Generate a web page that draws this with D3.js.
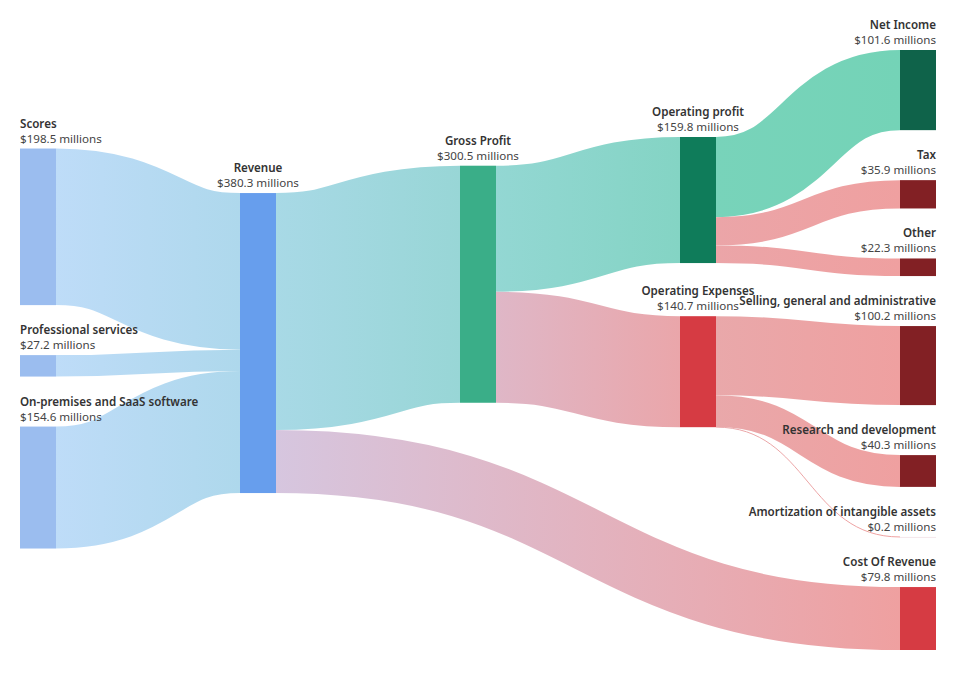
<!DOCTYPE html>
<html>
<head>
<meta charset="utf-8">
<script src="https://cdn.jsdelivr.net/npm/d3@7"></script>
<style>
  body { margin: 0; background: #fff; }
  text { font-family: "Noto Sans", "Open Sans", sans-serif; font-size: 11.6px; }
</style>
</head>
<body>
<svg id="sankey"></svg>
<script>
// nodes (order matters: the columns keep this order)
const nodeNames = ["Scores", "Professional services", "On-premises and SaaS software", "Revenue",
  "Gross Profit", "Operating profit", "Operating Expenses", "Net Income", "Tax", "Other",
  "Selling, general and administrative", "Research and development",
  "Amortization of intangible assets", "Cost Of Revenue"];
const nodeColors = ["#9bbdef", "#9bbdef", "#9bbdef", "#679eed",
  "#3aae88", "#0f7c5a", "#d63b43", "#0f634a", "#822024", "#822024",
  "#822024", "#822024", "#f3e6ea", "#d63b43"];

// flows in $ millions
const linkSources = ["Scores", "Professional services", "On-premises and SaaS software",
  "Revenue", "Revenue", "Gross Profit", "Gross Profit",
  "Operating profit", "Operating profit", "Operating profit",
  "Operating Expenses", "Operating Expenses", "Operating Expenses"];
const linkTargets = ["Revenue", "Revenue", "Revenue",
  "Gross Profit", "Cost Of Revenue", "Operating profit", "Operating Expenses",
  "Net Income", "Tax", "Other",
  "Selling, general and administrative", "Research and development", "Amortization of intangible assets"];
const linkValues = [198.5, 27.2, 154.6, 300.5, 79.8, 159.8, 140.7, 101.6, 35.9, 22.3, 100.2, 40.3, 0.2];
const linkColorStart = ["#bedcf8", "#bedcf8", "#bedcf8", "#a8d9e6", "#d6c6df", "#93d7d3", "#dfb7c7",
  "#78d3ba", "#eba5a8", "#eba5a8", "#e9a8aa", "#e9a8aa", "#e9a8aa"];
const linkColorEnd = ["#aed8ec", "#aed8ec", "#aed8ec", "#98d6d6", "#efa0a0", "#84d4c4", "#eaa6aa",
  "#74d3b7", "#efa0a0", "#efa0a0", "#efa0a0", "#efa0a0", "#efa0a0"];

const width = 956, height = 676;
const x0 = 20, y0 = 50, x1 = 936, y1 = 650;
const nodeWidth = 36, padding = 50, iterations = 6;

const svg = d3.select("#sankey").attr("width", width).attr("height", height);

// ---- small sankey layout (same approach as d3-sankey, justify alignment, no node sort) ----
const nodes = nodeNames.map((name, i) => ({name, color: nodeColors[i], index: i, sourceLinks: [], targetLinks: []}));
const byName = new Map(nodes.map(d => [d.name, d]));
const links = linkValues.map((v, i) => {
  const l = {source: byName.get(linkSources[i]), target: byName.get(linkTargets[i]), value: v, index: i,
    c0: linkColorStart[i], c1: linkColorEnd[i]};
  l.source.sourceLinks.push(l);
  l.target.targetLinks.push(l);
  return l;
});

nodes.forEach(n => n.value = Math.max(d3.sum(n.sourceLinks, l => l.value), d3.sum(n.targetLinks, l => l.value)));

// depth
let current = new Set(nodes), next = new Set, depth = 0;
while (current.size) {
  for (const n of current) { n.depth = depth; n.sourceLinks.forEach(l => next.add(l.target)); }
  depth++; current = next; next = new Set;
}

const nCols = d3.max(nodes, d => d.depth) + 1;
const colX = d3.scaleLinear().domain([0, nCols - 1]).range([x0, x1 - nodeWidth]);
const columns = d3.range(nCols).map(() => []);
nodes.forEach(n => {
  n.layer = n.sourceLinks.length ? n.depth : nCols - 1;
  n.x0 = colX(n.layer);
  n.x1 = n.x0 + nodeWidth;
  columns[n.layer].push(n);
});

const ky = d3.min(columns, c => (y1 - y0 - (c.length - 1) * padding) / d3.sum(c, d => d.value));
const byBreadth = (a, b) => a.y0 - b.y0;
const sortLinks = n => {
  n.sourceLinks.sort((a, b) => byBreadth(a.target, b.target) || a.index - b.index);
  n.targetLinks.sort((a, b) => byBreadth(a.source, b.source) || a.index - b.index);
};
links.forEach(l => l.width = l.value * ky);

columns.forEach(col => {
  let y = y0;
  col.forEach(n => { n.y0 = y; n.y1 = y + n.value * ky; y = n.y1 + padding; });
  const off = (y1 - y + padding) / (col.length + 1);
  col.forEach((n, i) => { n.y0 += off * (i + 1); n.y1 += off * (i + 1); });
  col.forEach(sortLinks);
});

function reorderNodeLinks(n) {
  n.targetLinks.forEach(l => sortLinks(l.source));
  n.sourceLinks.forEach(l => sortLinks(l.target));
}
function targetTop(source, target) {
  let y = source.y0 - (source.sourceLinks.length - 1) * padding / 2;
  for (const l of source.sourceLinks) { if (l.target === target) break; y += l.width + padding; }
  for (const l of target.targetLinks) { if (l.source === source) break; y -= l.width; }
  return y;
}
function sourceTop(source, target) {
  let y = target.y0 - (target.targetLinks.length - 1) * padding / 2;
  for (const l of target.targetLinks) { if (l.source === source) break; y += l.width + padding; }
  for (const l of source.sourceLinks) { if (l.target === target) break; y -= l.width; }
  return y;
}
function resolveCollisions(col, alpha) {
  const i = col.length >> 1, s = col[i];
  bottomToTop(col, s.y0 - padding, i - 1, alpha);
  topToBottom(col, s.y1 + padding, i + 1, alpha);
  bottomToTop(col, y1, col.length - 1, alpha);
  topToBottom(col, y0, 0, alpha);
}
function topToBottom(col, y, i, alpha) {
  for (; i < col.length; ++i) {
    const n = col[i], dy = (y - n.y0) * alpha;
    if (dy > 1e-6) { n.y0 += dy; n.y1 += dy; }
    y = n.y1 + padding;
  }
}
function bottomToTop(col, y, i, alpha) {
  for (; i >= 0; --i) {
    const n = col[i], dy = (n.y1 - y) * alpha;
    if (dy > 1e-6) { n.y0 -= dy; n.y1 -= dy; }
    y = n.y0 - padding;
  }
}

for (let it = 0; it < iterations; ++it) {
  const alpha = Math.pow(0.99, it);
  const beta = Math.max(1 - alpha, (it + 1) / iterations);
  // right to left
  for (let i = nCols - 2; i >= 0; --i) {
    const col = columns[i];
    col.forEach(src => {
      let y = 0, w = 0;
      src.sourceLinks.forEach(l => {
        const v = l.value * (l.target.layer - src.layer);
        y += sourceTop(src, l.target) * v; w += v;
      });
      if (!(w > 0)) return;
      const dy = (y / w - src.y0) * alpha;
      src.y0 += dy; src.y1 += dy;
      reorderNodeLinks(src);
    });
    resolveCollisions(col, beta);
  }
  // left to right
  for (let i = 1; i < nCols; ++i) {
    const col = columns[i];
    col.forEach(tgt => {
      let y = 0, w = 0;
      tgt.targetLinks.forEach(l => {
        const v = l.value * (tgt.layer - l.source.layer);
        y += targetTop(l.source, tgt) * v; w += v;
      });
      if (!(w > 0)) return;
      const dy = (y / w - tgt.y0) * alpha;
      tgt.y0 += dy; tgt.y1 += dy;
      reorderNodeLinks(tgt);
    });
    resolveCollisions(col, beta);
  }
}

nodes.forEach(n => {
  let a = n.y0, b = n.y0;
  n.sourceLinks.forEach(l => { l.y0 = a + l.width / 2; a += l.width; });
  n.targetLinks.forEach(l => { l.y1 = b + l.width / 2; b += l.width; });
});

// ---- draw ----
const defs = svg.append("defs");
links.forEach(l => {
  const g = defs.append("linearGradient")
    .attr("id", "grad" + l.index)
    .attr("gradientUnits", "userSpaceOnUse")
    .attr("x1", l.source.x1).attr("x2", l.target.x0);
  g.append("stop").attr("offset", "0%").attr("stop-color", l.c0);
  g.append("stop").attr("offset", "100%").attr("stop-color", l.c1);
});

const linkPath = d3.linkHorizontal()
  .source(d => [d.source.x1, d.y0])
  .target(d => [d.target.x0, d.y1]);

svg.append("g")
  .attr("fill", "none")
  .selectAll("path")
  .data(links)
  .join("path")
  .attr("d", linkPath)
  .attr("stroke", d => `url(#grad${d.index})`)
  .attr("stroke-width", d => Math.max(1, d.width));

svg.append("g")
  .selectAll("rect")
  .data(nodes)
  .join("rect")
  .attr("x", d => d.x0)
  .attr("y", d => d.y0)
  .attr("width", d => d.x1 - d.x0)
  .attr("height", d => Math.max(1, d.y1 - d.y0))
  .attr("fill", d => d.color);

const labelX = d => d.layer === 0 ? d.x0 : d.layer === nCols - 1 ? d.x1 : (d.x0 + d.x1) / 2;
const labelAnchor = d => d.layer === 0 ? "start" : d.layer === nCols - 1 ? "end" : "middle";

// node name
svg.append("g")
  .selectAll("text")
  .data(nodes)
  .join("text")
  .attr("x", labelX)
  .attr("y", d => d.y0 - 21)
  .attr("text-anchor", labelAnchor)
  .attr("font-weight", 600)
  .attr("fill", "#333")
  .text(d => d.name);

// node value
svg.append("g")
  .selectAll("text")
  .data(nodes)
  .join("text")
  .attr("x", labelX)
  .attr("y", d => d.y0 - 6)
  .attr("text-anchor", labelAnchor)
  .attr("fill", "#444")
  .text(d => `$${d.value.toFixed(1)} millions`);
</script>
</body>
</html>
